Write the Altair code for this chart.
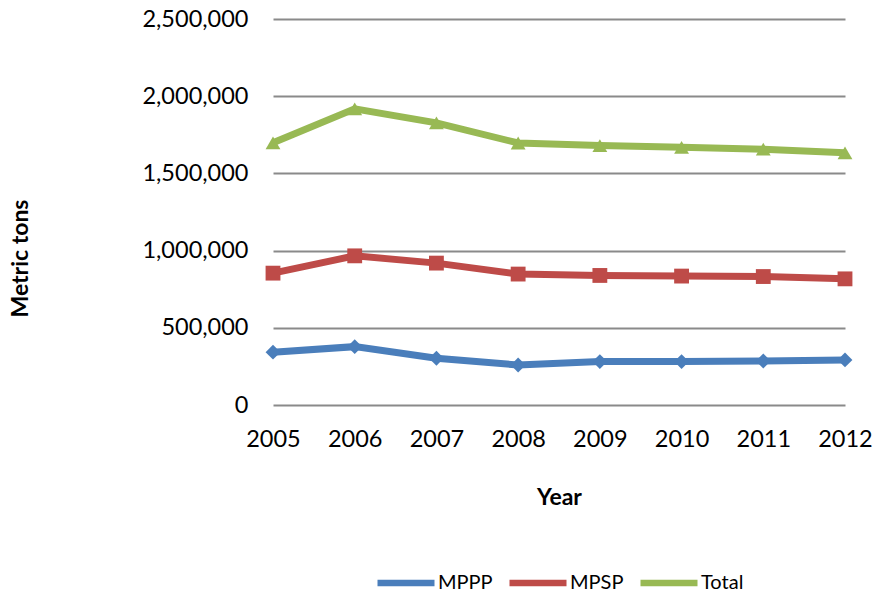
import altair as alt
import pandas as pd

years = [2005, 2006, 2007, 2008, 2009, 2010, 2011, 2012]
mppp = [342000, 378000, 303000, 259000, 281000, 281000, 285000, 292000]
mpsp = [854000, 966000, 919000, 848000, 839000, 835000, 832000, 817000]
total = [1698000, 1918000, 1827000, 1697000, 1680000, 1669000, 1657000, 1633000]
series_names = ["MPPP", "MPSP", "Total"]
colors = ["#4A7EBB", "#BE4B48", "#98B954"]
shapes = ["diamond", "square", "triangle-up"]
y_ticks = [0, 500000, 1000000, 1500000, 2000000, 2500000]

rows = []
for name, vals in zip(series_names, [mppp, mpsp, total]):
    for yr, v in zip(years, vals):
        rows.append({"Series": name, "Year": yr, "Value": v})
df = pd.DataFrame(rows)

FONT = "Lato"

legend = alt.Legend(
    title=None, orient="none", legendX=101, legendY=532, direction="horizontal",
    symbolType="M-1,0H1", symbolSize=3249, symbolStrokeWidth=6.5,
    labelFontSize=20, labelFont=FONT, labelColor="#000000", labelBaseline="middle",
    labelOffset=0, columnPadding=3, padding=0,
)

x_enc = alt.X(
    "Year:Q",
    scale=alt.Scale(domain=[2005, 2012], nice=False, zero=False),
    axis=alt.Axis(
        values=years, format="d", title="Year", grid=False, domain=False, ticks=False,
        labelPadding=22, labelFontSize=23.5, labelFont=FONT, labelColor="#000000",
        labelFlush=False, labelOverlap=False, labelBound=False,
        titleFontSize=23, titleFont=FONT, titleFontWeight="bold", titleColor="#000000",
        titleY=92, titleBaseline="middle",
    ),
)
y_enc = alt.Y(
    "Value:Q",
    scale=alt.Scale(domain=[0, 2500000], nice=False),
    axis=alt.Axis(
        values=y_ticks, format=",d", title="Metric tons", grid=True,
        gridColor="#8a8a8a", gridWidth=1.8, domain=False, ticks=False,
        labelPadding=25, labelFontSize=23.5, labelFont=FONT, labelColor="#000000",
        labelBaseline="middle",
        titleFontSize=23, titleFont=FONT, titleFontWeight="bold", titleColor="#000000",
        titleX=-253, titleY=239, titleBaseline="middle", titleAngle=-90,
    ),
)

lines = alt.Chart(df).mark_line(strokeWidth=7).encode(
    x=x_enc, y=y_enc,
    color=alt.Color("Series:N", scale=alt.Scale(domain=series_names, range=colors), legend=legend),
    detail="Series:N",
)
points = alt.Chart(df).mark_point(filled=True, opacity=1, size=220).encode(
    x=x_enc, y=y_enc,
    color=alt.Color("Series:N", scale=alt.Scale(domain=series_names, range=colors), legend=None),
    shape=alt.Shape("Series:N", scale=alt.Scale(domain=series_names, range=shapes), legend=None),
)

chart = (
    alt.layer(lines, points)
    .resolve_scale(color="independent", shape="independent")
    .resolve_legend(color="independent", shape="independent")
    .properties(
        width=572, height=386,
        autosize=alt.AutoSizeParams(type="none"),
        padding={"left": 273, "top": 19, "right": 28, "bottom": 189},
        background="#ffffff",
    )
    .configure_view(stroke=None)
)

chart.save("out.html", embed_options={"renderer": "svg", "actions": False})
